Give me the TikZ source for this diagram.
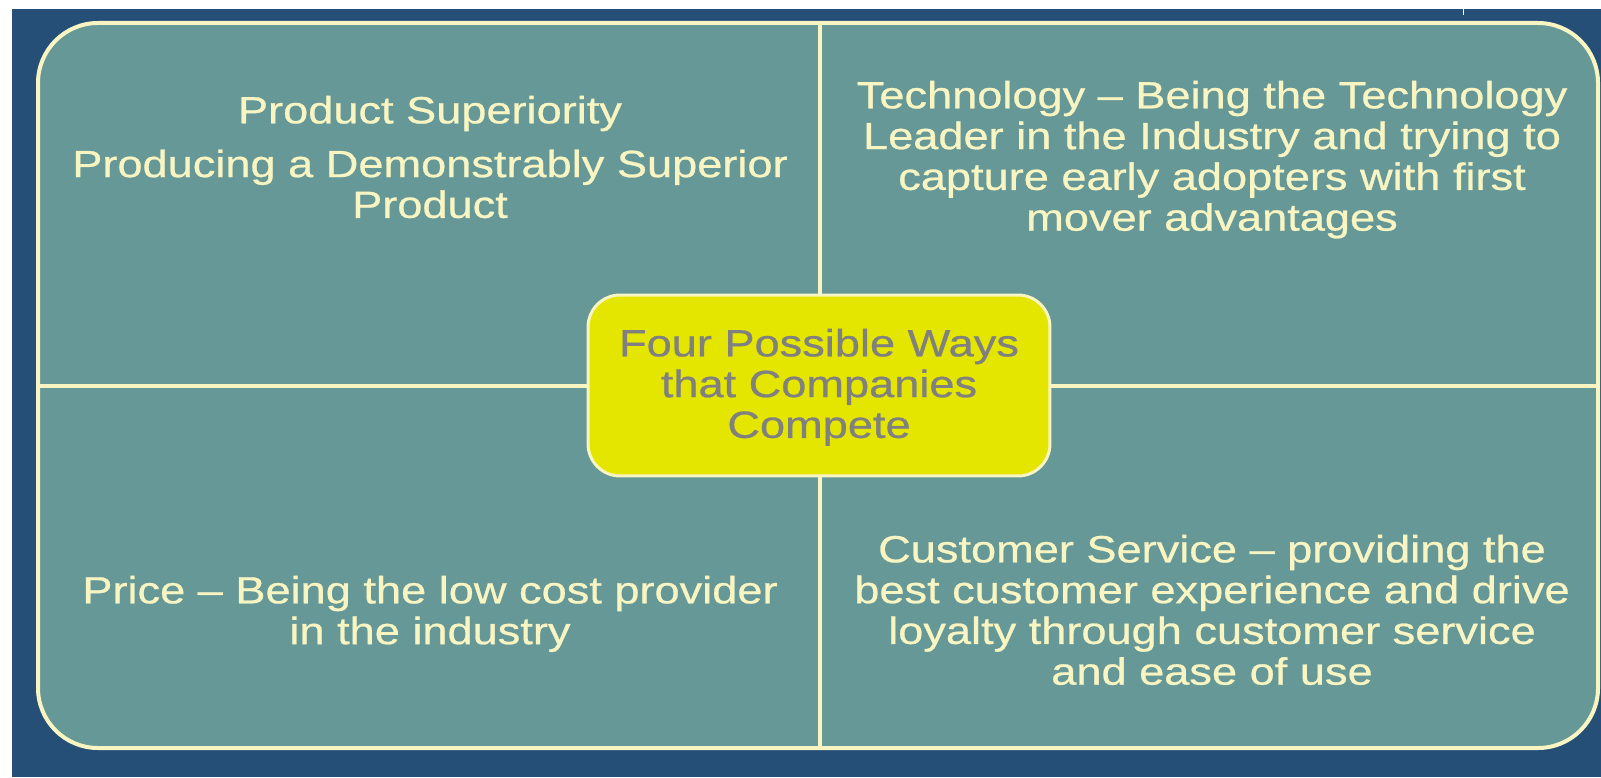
\documentclass[tikz,border=0pt]{standalone}
\usepackage{fontspec}
\setmainfont{Liberation Sans}[FakeStretch=1.19, FakeBold=0.7]
\definecolor{navy}{RGB}{38,79,120}
\definecolor{teal}{RGB}{101,152,150}
\definecolor{cream}{RGB}{248,245,195}
\definecolor{hubfill}{RGB}{228,230,0}
\definecolor{hubtext}{RGB}{128,128,128}
\newcommand{\quadfont}{\fontsize{21.6pt}{23.2pt}\selectfont}

\begin{document}
\begin{tikzpicture}[x=0.02cm, y=-0.02cm,
	board/.style={draw=cream, line width=0.08cm, fill=teal, rounded corners=1.2cm},
	divider/.style={draw=cream, line width=0.08cm},
	hubbox/.style={draw=cream, line width=0.06cm, fill=hubfill, rounded corners=0.64cm,
		minimum width=9.24cm, minimum height=3.62cm, inner sep=0pt},
	quadtext/.style={text=cream, align=center, anchor=north, inner sep=0pt, font=\quadfont},
	hubtext/.style={text=hubtext, align=center, anchor=north, inner sep=0pt, font=\quadfont}]
			%%%%% START %%%%%
			
			\useasboundingbox[fill=white] (0, 0) rectangle (1601, 777);
			\fill[navy] (12, 9) rectangle (1601, 777);
			\draw[white, line width=0.02cm] (1463, 8) -- (1463, 15);
			
			\draw[board] (38, 23) rectangle (1598, 748);
			\coordinate (topmid) at (820, 23);
			\coordinate (botmid) at (820, 748);
			\coordinate (leftmid) at (38, 386);
			\coordinate (rightmid) at (1598, 386);
			
			\draw[divider] (topmid) -- (botmid);
			\draw[divider] (leftmid) -- (rightmid);
			
			\node[hubbox] (hub) at (819, 385.5) {};
			\node[hubtext] (hublabel) at (819, 328.5) {Four Possible Ways\\that Companies\\Compete};
			
			\node[quadtext] (superiority) at (430, 95.5) {Product Superiority\\[0.26cm]Producing a Demonstrably Superior\\Product};
			\node[quadtext] (technology) at (1212, 80.5) {Technology -- Being the Technology\\Leader in the Industry and trying to\\capture early adopters with first\\mover advantages};
			\node[quadtext] (price) at (430, 575.5) {Price -- Being the low cost provider\\in the industry};
			\node[quadtext] (service) at (1212, 534.5) {Customer Service -- providing the\\best customer experience and drive\\loyalty through customer service\\and ease of use};
			
			%%%%% END %%%%%
\end{tikzpicture}
\end{document}
